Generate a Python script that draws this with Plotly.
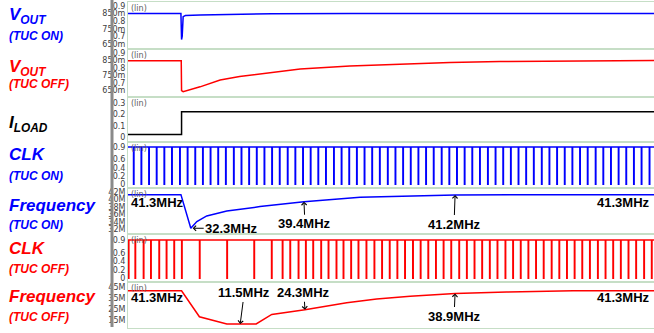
import plotly.graph_objects as go
from plotly.subplots import make_subplots

# ---- waveform data (time in ns) ----
T_END = 1650

vout_on_t = [0, 166, 168, 170, 173, 180, 226, 320, 450, 700, 1650]
vout_on_v = [0.85, 0.85, 0.68, 0.70, 0.829, 0.836, 0.840, 0.844, 0.847, 0.849, 0.85]

vout_off_t = [0, 167, 168, 173, 226, 289, 350, 414, 540, 696, 853, 1010, 1167, 1355, 1650]
vout_off_v = [0.85, 0.85, 0.646, 0.639, 0.672, 0.718, 0.742, 0.759, 0.793, 0.814, 0.827, 0.837, 0.844, 0.848, 0.851]

iload_t = [0, 168, 168, 1650]
iload_a = [0.025, 0.025, 0.225, 0.225]

clk_on_pulses = [17, 41, 65, 89, 113, 137, 162, 186, 210, 234, 258, 282, 306, 331, 355,
                 379, 403, 427, 451, 475, 500, 524, 548, 572, 596, 620, 645, 669, 693, 717,
                 741, 765, 789, 814, 838, 862, 886, 910, 934, 958, 983, 1007, 1031, 1055,
                 1079, 1103, 1128, 1152, 1176, 1200, 1224, 1248, 1272, 1297, 1321, 1345,
                 1369, 1393, 1417, 1441, 1466, 1490, 1514, 1538, 1562, 1586, 1610, 1635]

clk_off_pulses = [1, 22, 48, 71, 97, 120, 144, 168, 224, 310, 395, 450, 484, 508, 534, 557,
                  580, 605, 628, 653, 675, 699, 722, 747, 772, 796, 820, 844, 868, 893, 917,
                  941, 965, 989, 1013, 1038, 1062, 1086, 1110, 1134, 1158, 1183, 1207, 1231,
                  1255, 1279, 1303, 1328, 1352, 1376, 1400, 1424, 1448, 1473, 1497, 1521,
                  1545, 1569, 1593, 1618, 1642]

freq_on_t = [0, 166, 197, 216, 247, 310, 414, 552, 728, 1026, 1230, 1650]
freq_on_mhz = [41.3, 41.3, 32.3, 34.1, 35.6, 36.9, 38.1, 39.4, 40.6, 41.2, 41.3, 41.3]

freq_off_t = [0, 168, 224, 310, 402, 451, 555, 686, 780, 885, 1026, 1188, 1396, 1650]
freq_off_mhz = [41.3, 41.3, 18.0, 11.5, 11.5, 20.1, 24.3, 30.5, 34.0, 36.5, 38.9, 40.3, 41.3, 41.3]

vout_ticks = [0.65, 0.7, 0.75, 0.8, 0.85, 0.9]
vout_ticktext = ["650m", "0.7", "750m", "0.8", "850m", "0.9"]
iload_ticks = [0, 0.1, 0.2, 0.3]
iload_ticktext = ["0", "0.1", "0.2", "0.3"]
clk_ticks = [0, 0.2, 0.4, 0.6, 0.9]
clk_ticktext = ["0", "0.2", "0.4", "0.6", "0.9"]
fon_ticks = [32, 34, 36, 38, 40, 42]
fon_ticktext = ["32M", "34M", "36M", "38M", "40M", "42M"]
foff_ticks = [15, 25, 35, 45]
foff_ticktext = ["15M", "25M", "35M", "45M"]

CLK_HIGH = 0.9
CLK_LOW = 0.0

# ---- styling / layout constants ----
W, H = 654, 333
ML = 128
BLUE = "#0000ff"
RED = "#ff0000"
BLACK = "#000000"
GRID = "#c6dec6"
FONT = "Liberation Sans, Arial, sans-serif"

# pixel edges of the seven stacked panels
edges = [2, 49.3, 96.7, 142.3, 188.3, 234.3, 281.7, 328]
ranges = [[0.617, 0.924], [0.605, 0.927], [-0.044, 0.358], [-0.097, 1.013],
          [30.68, 43.0], [-0.08, 1.034], [7.9, 49.5]]


def py(px):
    return 1 - px / H


def px_x(px):
    return (px - ML) / (W - ML)


def clock_wave(pulses, width=2.0):
    xs, ys = [0], [CLK_HIGH]
    for p in pulses:
        xs += [p, p, p + width, p + width]
        ys += [CLK_HIGH, CLK_LOW, CLK_LOW, CLK_HIGH]
    xs.append(T_END)
    ys.append(CLK_HIGH)
    return xs, ys


fig = make_subplots(rows=7, cols=1, shared_xaxes=True, vertical_spacing=0)

fig.add_trace(go.Scatter(x=vout_on_t, y=vout_on_v, mode="lines",
                         line=dict(color=BLUE, width=1.5)), row=1, col=1)
fig.add_trace(go.Scatter(x=vout_off_t, y=vout_off_v, mode="lines",
                         line=dict(color=RED, width=1.5)), row=2, col=1)
fig.add_trace(go.Scatter(x=iload_t, y=iload_a, mode="lines",
                         line=dict(color=BLACK, width=1.5)), row=3, col=1)
cx, cy = clock_wave(clk_on_pulses)
fig.add_trace(go.Scatter(x=cx, y=cy, mode="lines",
                         line=dict(color=BLUE, width=1.3)), row=4, col=1)
fig.add_trace(go.Scatter(x=freq_on_t, y=freq_on_mhz, mode="lines",
                         line=dict(color=BLUE, width=1.5)), row=5, col=1)
cx, cy = clock_wave(clk_off_pulses)
fig.add_trace(go.Scatter(x=cx, y=cy, mode="lines",
                         line=dict(color=RED, width=1.3)), row=6, col=1)
fig.add_trace(go.Scatter(x=freq_off_t, y=freq_off_mhz, mode="lines",
                         line=dict(color=RED, width=1.5)), row=7, col=1)

ticks = [(vout_ticks, vout_ticktext), (vout_ticks, vout_ticktext),
         (iload_ticks, iload_ticktext), (clk_ticks, clk_ticktext),
         (fon_ticks, fon_ticktext), (clk_ticks, clk_ticktext),
         (foff_ticks, foff_ticktext)]

for i in range(7):
    top, bot = edges[i], edges[i + 1]
    fig.update_yaxes(row=i + 1, col=1, domain=[py(bot), py(top)], range=ranges[i],
                     tickmode="array", tickvals=ticks[i][0], ticktext=ticks[i][1],
                     tickfont=dict(family="DejaVu Sans, sans-serif", size=8, color="#404040"),
                     ticks="", showgrid=False, zeroline=False,
                     showline=True, mirror=True, linecolor=GRID, linewidth=1)
    fig.update_xaxes(row=i + 1, col=1, range=[0, T_END], showticklabels=False,
                     ticks="", showgrid=False, zeroline=False,
                     showline=True, mirror=True, linecolor=GRID, linewidth=1)

annotations = []

# "(lin)" scale tags at the top of every panel
for i in range(7):
    annotations.append(dict(xref="paper", yref="paper", x=0.002, y=py(edges[i]) ,
                            xanchor="left", yanchor="top", showarrow=False, text="(lin)",
                            font=dict(family="DejaVu Sans, sans-serif", size=8, color="#606060")))

# signal names on the left
labels = [
    ("V<sub>OUT</sub>", BLUE, 17, 16),
    ("(TUC ON)", BLUE, 12, 36),
    ("V<sub>OUT</sub>", RED, 17, 68),
    ("(TUC OFF)", RED, 12, 84),
    ("I<sub>LOAD</sub>", BLACK, 17, 124),
    ("CLK", BLUE, 17, 154),
    ("(TUC ON)", BLUE, 12, 176),
    ("Frequency", BLUE, 17, 205),
    ("(TUC ON)", BLUE, 12, 225),
    ("CLK", RED, 17, 248),
    ("(TUC OFF)", RED, 12, 269),
    ("Frequency", RED, 17, 296),
    ("(TUC OFF)", RED, 12, 317),
]
for text, color, size, ypx in labels:
    annotations.append(dict(xref="paper", yref="paper", x=px_x(7), y=py(ypx),
                            xanchor="left", yanchor="middle", showarrow=False, text=text,
                            font=dict(family=FONT, size=size, color=color,
                                      weight="bold", style="italic")))

MHZ_FONT = dict(family=FONT, size=13, color=BLACK, weight="bold")

# frequency callouts, TUC ON
annotations += [
    dict(xref="x5", yref="y5", x=0, y=39.1, xanchor="left", yanchor="middle",
         xshift=1, showarrow=False, text="41.3MHz", font=MHZ_FONT),
    dict(xref="paper", yref="y5", x=1, y=39.1, xanchor="right", yanchor="middle",
         xshift=-2, showarrow=False, text="41.3MHz", font=MHZ_FONT),
    dict(xref="x5", yref="y5", x=203, y=32.3, ax=39, ay=0, text="32.3MHz",
         showarrow=True, arrowhead=4, arrowwidth=1, arrowsize=1, arrowcolor=BLACK, font=MHZ_FONT),
    dict(xref="x5", yref="y5", x=552, y=39.4, ax=1, ay=22, text="39.4MHz",
         showarrow=True, arrowhead=4, arrowwidth=1, arrowsize=1, arrowcolor=BLACK, font=MHZ_FONT),
    dict(xref="x5", yref="y5", x=1026, y=41.2, ax=-1, ay=29, text="41.2MHz",
         showarrow=True, arrowhead=4, arrowwidth=1, arrowsize=1, arrowcolor=BLACK, font=MHZ_FONT),
]

# frequency callouts, TUC OFF
annotations += [
    dict(xref="x7", yref="y7", x=0, y=35.0, xanchor="left", yanchor="middle",
         xshift=1, showarrow=False, text="41.3MHz", font=MHZ_FONT),
    dict(xref="paper", yref="y7", x=1, y=35.0, xanchor="right", yanchor="middle",
         xshift=-2, showarrow=False, text="41.3MHz", font=MHZ_FONT),
    dict(xref="x7", yref="y7", x=352, y=11.5, ax=4, ay=-31, text="11.5MHz",
         showarrow=True, arrowhead=4, arrowwidth=1, arrowsize=1, arrowcolor=BLACK, font=MHZ_FONT),
    dict(xref="x7", yref="y7", x=555, y=24.3, ax=-1, ay=-17, text="24.3MHz",
         showarrow=True, arrowhead=4, arrowwidth=1, arrowsize=1, arrowcolor=BLACK, font=MHZ_FONT),
    dict(xref="x7", yref="y7", x=1026, y=38.9, ax=-1, ay=22.5, text="38.9MHz",
         showarrow=True, arrowhead=4, arrowwidth=1, arrowsize=1, arrowcolor=BLACK, font=MHZ_FONT),
]

fig.update_layout(
    width=W, height=H,
    margin=dict(l=ML, r=0, t=0, b=0),
    paper_bgcolor="white", plot_bgcolor="white",
    showlegend=False,
    annotations=annotations,
    shapes=[dict(type="line", xref="paper", yref="paper",
                 x0=px_x(112), x1=px_x(112), y0=py(327), y1=1,
                 line=dict(color="#8a8a8a", width=3))],
)

fig.write_html("out.html")
